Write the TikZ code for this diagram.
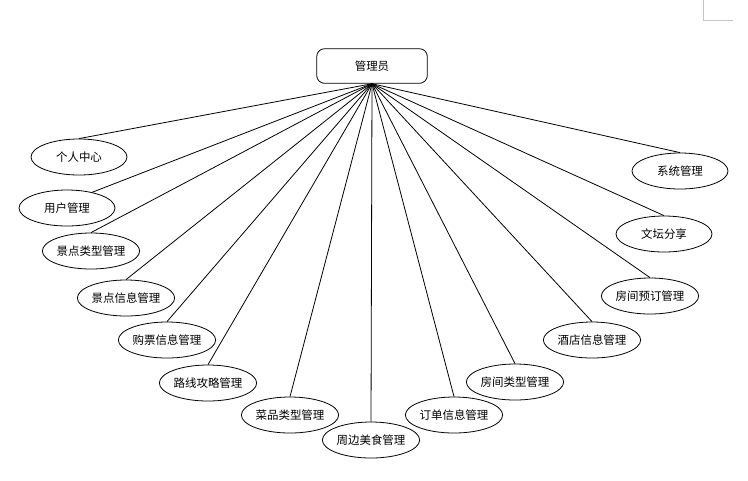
\documentclass[tikz,border=0pt]{standalone}
\usepackage{fontspec}
\setmainfont{Noto Sans CJK SC}
\usetikzlibrary{shapes.geometric}

\begin{document}
\begin{tikzpicture}[x=0.75pt,y=-0.75pt,font=\fontsize{8.6}{10}\selectfont,line width=0.6pt,
  rootbox/.style={draw,rounded corners=6pt,minimum height=26pt,minimum width=83pt,inner sep=0pt},
  func/.style={draw,ellipse,minimum height=27pt,minimum width=72pt,inner sep=0pt}]
  \useasboundingbox (0,0) rectangle (748,480);
  % page corner mark
  \draw[gray!45,line width=0.5pt] (703,0) -- (703,20) -- (733,20);
  \node[rootbox] (admin) at (372,66) {管理员};
  \node[func] (grzx) at (79,157) {个人中心};
  \node[func] (yhgl) at (67,208) {用户管理};
  \node[func] (jdlx) at (91,251) {景点类型管理};
  \node[func] (jdxx) at (126,298) {景点信息管理};
  \node[func] (gpxx) at (167,340) {购票信息管理};
  \node[func] (xlgl) at (208,383) {路线攻略管理};
  \node[func] (cplx) at (290,415) {菜品类型管理};
  \node[func] (zbms) at (371,440) {周边美食管理};
  \node[func] (ddxx) at (454,415) {订单信息管理};
  \node[func] (fjlx) at (515,382) {房间类型管理};
  \node[func] (jdxg) at (592,340) {酒店信息管理};
  \node[func] (fjyd) at (650,296) {房间预订管理};
  \node[func] (wtfx) at (664,234) {文坛分享};
  \node[func] (xtgl) at (680,171) {系统管理};
  \draw (admin.south) -- (yhgl.32);
  \foreach \n in {grzx,jdlx,jdxx,gpxx,xlgl,cplx,zbms,ddxx,fjlx,jdxg,fjyd,wtfx,xtgl}
    \draw (admin.south) -- (\n.north);
\end{tikzpicture}
\end{document}
